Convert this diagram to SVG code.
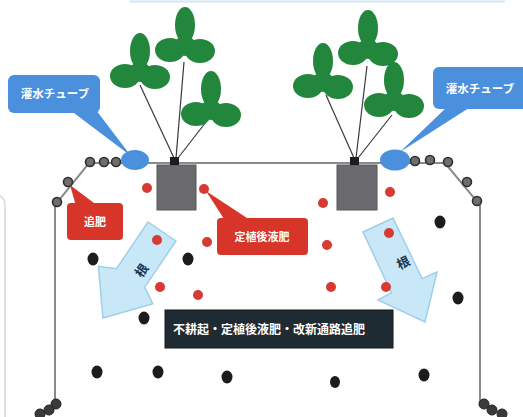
<svg xmlns="http://www.w3.org/2000/svg" width="523" height="417" viewBox="0 0 523 417">
  <defs>
    <style>
      .bed { fill: none; stroke: #8a8a8a; stroke-width: 2; }
      .faint { fill: none; stroke: #d4d8dc; stroke-width: 1.5; }
      .ring { fill: #6e6e6e; stroke: #2e2e2e; stroke-width: 1.6; }
      .leaf { fill: #22873c; }
      .stem { stroke: #3a3a3a; stroke-width: 1.2; fill: none; }
      .pot { fill: #6b6b6f; stroke: #58585c; stroke-width: 1; }
      .crown { fill: #1c1c1c; }
      .tube { fill: #4a90dc; }
      .blue-call { fill: #4a90dc; }
      .red-call { fill: #d8352a; }
      .red { fill: #d63a33; }
      .black { fill: #1c1c1c; }
      .arrow { fill: #c8e8f7; stroke: #9fcfe8; stroke-width: 1.5; }
      .lbl { font-family: "Noto Sans CJK JP", "Noto Sans CJK SC", sans-serif; fill: #ffffff; font-weight: bold; }
      .root { font-family: "Noto Sans CJK JP", "Noto Sans CJK SC", sans-serif; fill: #1f3550; font-weight: bold; font-size: 13px; }
    </style>
    <!-- three-lobed strawberry leaf -->
    <g id="trefoil">
      <ellipse cx="0" cy="-19" rx="10" ry="18" class="leaf"/>
      <ellipse cx="-15" cy="6" rx="15" ry="12" class="leaf"/>
      <ellipse cx="15" cy="7" rx="15" ry="12" class="leaf"/>
      <ellipse cx="0" cy="2" rx="11" ry="10" class="leaf"/>
    </g>
  </defs>

  <!-- faint edge lines -->
  <line x1="130" y1="1.5" x2="505" y2="1.5" stroke="#cfe6f5" stroke-width="2"/>
  <path class="faint" d="M0 196 Q5 198 5 206 L5 417"/>

  <!-- raised bed outline -->
  <path class="bed" d="M55 405 L55 205 L89 163 L445 163 L480 205 L480 405"/>

  <!-- bottom corners -->
  <g fill="#3a3a3a" stroke="#222" stroke-width="1">
    <circle cx="56" cy="404" r="5"/>
    <circle cx="49" cy="410" r="5"/>
    <circle cx="40" cy="414" r="5"/>
    <circle cx="484" cy="404" r="5"/>
    <circle cx="492" cy="410" r="5"/>
    <circle cx="502" cy="414" r="5"/>
  </g>

  <!-- plant stems -->
  <g id="stems">
    <path class="stem" d="M140 85 L174 158"/>
    <path class="stem" d="M184 62 L176 158"/>
    <path class="stem" d="M206 122 L178 158"/>
    <path class="stem" d="M326 95 L354 158"/>
    <path class="stem" d="M367 66 L356 158"/>
    <path class="stem" d="M392 115 L358 158"/>
  </g>

  <!-- left plant -->
  <g id="plant-left">
    <use href="#trefoil" x="140" y="70"/>
    <use href="#trefoil" x="185" y="44"/>
    <use href="#trefoil" x="211" y="108"/>
    <rect class="pot" x="157" y="165" width="39" height="45"/>
    <rect class="crown" x="170" y="157" width="9" height="8"/>
  </g>

  <!-- right plant -->
  <g id="plant-right">
    <use href="#trefoil" x="323" y="80"/>
    <use href="#trefoil" x="368" y="47"/>
    <use href="#trefoil" x="394" y="99"/>
    <rect class="pot" x="337" y="165" width="40" height="45"/>
    <rect class="crown" x="350" y="157" width="9" height="8"/>
  </g>

  <!-- drip tube rings -->
  <g id="rings">
    <circle class="ring" cx="90" cy="162" r="4.5"/>
    <circle class="ring" cx="104" cy="162" r="4.5"/>
    <circle class="ring" cx="116" cy="162" r="4.5"/>
    <circle class="ring" cx="68" cy="182" r="4.5"/>
    <circle class="ring" cx="57" cy="202" r="4.5"/>
    <circle class="ring" cx="415" cy="161" r="4.5"/>
    <circle class="ring" cx="430" cy="160" r="4.5"/>
    <circle class="ring" cx="448" cy="162" r="4.5"/>
    <circle class="ring" cx="467" cy="182" r="4.5"/>
    <circle class="ring" cx="477" cy="201" r="4.5"/>
  </g>

  <!-- irrigation tubes -->
  <ellipse class="tube" cx="135" cy="160" rx="14" ry="10"/>
  <ellipse class="tube" cx="395" cy="160" rx="15" ry="10.5"/>

  <!-- root arrows -->
  <g id="arrow-left">
    <polygon class="arrow" points="176,241 148,222 116.4,268.8 98.4,266.3 103,318 152.8,303.7 144.7,287.2"/>
    <text class="root" x="0" y="0" transform="translate(141 270) rotate(-55)" text-anchor="middle" dominant-baseline="central">根</text>
  </g>
  <g id="arrow-right">
    <polygon class="arrow" points="363,232 393,218 422.1,278.6 437,272 425,322 378,300 391.4,292.7"/>
    <text class="root" x="0" y="0" transform="translate(403 262) rotate(-26)" text-anchor="middle" dominant-baseline="central">根</text>
  </g>

  <!-- fertiliser dots -->
  <g id="red-dots">
    <circle class="red" cx="147" cy="188" r="5"/>
    <circle class="red" cx="204" cy="189" r="5"/>
    <circle class="red" cx="157" cy="240" r="5"/>
    <circle class="red" cx="207" cy="242" r="5"/>
    <circle class="red" cx="160" cy="287" r="5"/>
    <circle class="red" cx="198" cy="295" r="5"/>
    <circle class="red" cx="323" cy="203" r="5"/>
    <circle class="red" cx="390" cy="192" r="5"/>
    <circle class="red" cx="389" cy="233" r="5"/>
    <circle class="red" cx="327" cy="245" r="5"/>
    <circle class="red" cx="331" cy="287" r="5"/>
    <circle class="red" cx="386" cy="287" r="5"/>
  </g>
  <g id="black-dots">
    <ellipse class="black" cx="93" cy="259" rx="5.5" ry="6.5"/>
    <ellipse class="black" cx="188" cy="259" rx="5.5" ry="6.5"/>
    <ellipse class="black" cx="440" cy="222" rx="5.5" ry="6.5"/>
    <ellipse class="black" cx="458" cy="298" rx="5.5" ry="6.5"/>
    <ellipse class="black" cx="144" cy="318" rx="5.5" ry="6.5"/>
    <ellipse class="black" cx="97" cy="372" rx="5.5" ry="6.5"/>
    <ellipse class="black" cx="158" cy="372" rx="5.5" ry="6.5"/>
    <ellipse class="black" cx="227" cy="377" rx="5.5" ry="6.5"/>
    <ellipse class="black" cx="335" cy="382" rx="5" ry="6"/>
    <ellipse class="black" cx="424" cy="375" rx="5.5" ry="6.5"/>
  </g>

  <!-- callouts -->
  <g id="call-tube-left">
    <path class="blue-call" d="M70 110 L96 110 L131 156 Z"/>
    <rect class="blue-call" x="8" y="75" width="92" height="38" rx="6"/>
    <text class="lbl" x="55" y="98" font-size="11.5" text-anchor="middle">灌水チューブ</text>
  </g>
  <g id="call-tube-right">
    <path class="blue-call" d="M448 106 L472 106 L400 152 Z"/>
    <rect class="blue-call" x="433" y="67" width="95" height="42" rx="6"/>
    <text class="lbl" x="480" y="93" font-size="11.5" text-anchor="middle">灌水チューブ</text>
  </g>
  <g id="call-topdress">
    <path class="red-call" d="M76 206 L98 206 L70 185 Z"/>
    <rect class="red-call" x="67" y="203" width="56" height="37" rx="4"/>
    <text class="lbl" x="95" y="226" font-size="11" text-anchor="middle" fill="#f6e4d8">追肥</text>
  </g>
  <g id="call-liquid">
    <path class="red-call" d="M226 222 L250 220 L206 191 Z"/>
    <rect class="red-call" x="217" y="218" width="91" height="37" rx="4"/>
    <text class="lbl" x="262" y="241" font-size="11" text-anchor="middle" fill="#f6e4d8">定植後液肥</text>
  </g>

  <!-- caption -->
  <g id="caption">
    <rect x="165" y="310" width="228" height="38" fill="#1f2b33" stroke="#121a20" stroke-width="1"/>
    <text class="lbl" x="269" y="334" font-size="12" font-weight="normal" text-anchor="middle">不耕起・定植後液肥・改新通路追肥</text>
  </g>
</svg>
